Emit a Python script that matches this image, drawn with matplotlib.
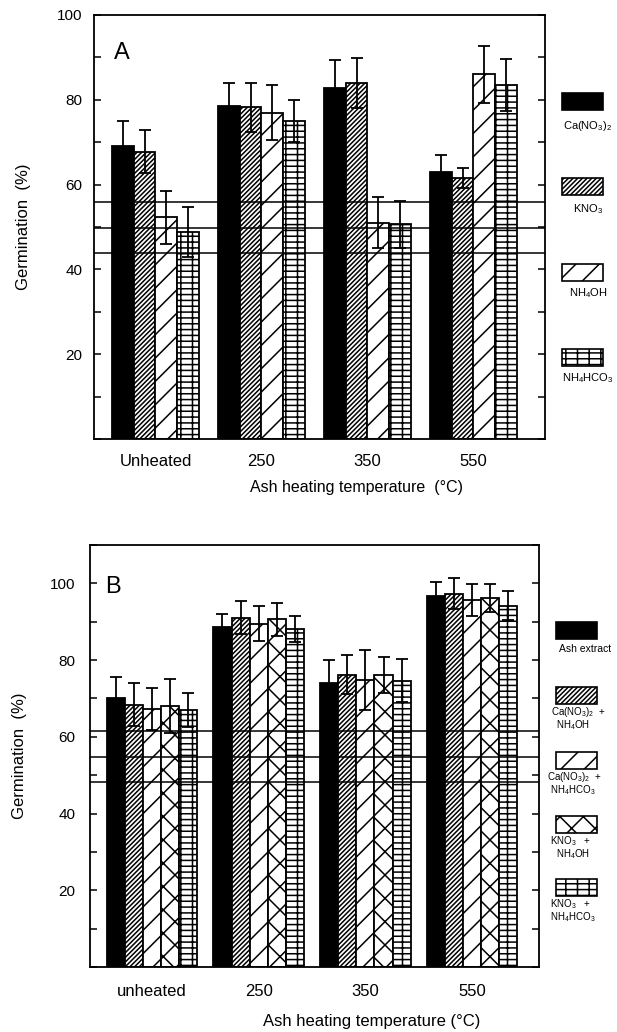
#Import modules
import matplotlib
matplotlib.use('Agg')
import matplotlib.pyplot as plt
from matplotlib.patches import Rectangle
import numpy as np

#Render at 70 dpi so the hatch cell matches the scan; S rescales point sizes
DPI = 70
S = 100 / DPI

#Fonts
plt.rcParams['font.family'] = ['Liberation Sans', 'DejaVu Sans']
plt.rcParams['mathtext.fontset'] = 'custom'
plt.rcParams['mathtext.rm'] = 'Liberation Sans'
plt.rcParams['mathtext.default'] = 'regular'
plt.rcParams['hatch.linewidth'] = 1.1 * S

#Panel A data
a_categories = ['Unheated', '250', '350', '550']
a_names = ['Ca(NO$_3$)$_2$', 'KNO$_3$', 'NH$_4$OH', 'NH$_4$HCO$_3$']
a_ca = [69.2, 78.6, 82.9, 63.0]
a_ca_err = [5.8, 5.4, 6.6, 4.0]
a_kno3 = [67.8, 78.2, 84.0, 61.5]
a_kno3_err = [5.1, 5.8, 5.9, 2.3]
a_nh4oh = [52.3, 77.0, 51.0, 86.0]
a_nh4oh_err = [6.2, 6.5, 6.0, 6.7]
a_nh4hco3 = [48.8, 75.0, 50.6, 83.5]
a_nh4hco3_err = [5.8, 5.0, 5.5, 6.1]
a_control = [55.8, 49.8, 43.9]

#Panel B data
b_categories = ['unheated', '250', '350', '550']
b_names = ['Ash extract',
           ['Ca(NO$_3$)$_2$  +', 'NH$_4$OH'],
           ['Ca(NO$_3$)$_2$  +', 'NH$_4$HCO$_3$'],
           ['KNO$_3$   +', 'NH$_4$OH'],
           ['KNO$_3$   +', 'NH$_4$HCO$_3$']]
b_ash = [70.1, 88.7, 74.1, 96.8]
b_ash_err = [5.5, 3.3, 6.0, 3.6]
b_ca_nh4oh = [68.4, 91.1, 76.2, 97.3]
b_ca_nh4oh_err = [5.6, 4.4, 5.1, 4.0]
b_ca_nh4hco3 = [67.3, 89.5, 74.9, 95.6]
b_ca_nh4hco3_err = [5.5, 4.6, 7.8, 4.2]
b_kno3_nh4oh = [68.0, 90.6, 76.2, 96.2]
b_kno3_nh4oh_err = [7.0, 4.2, 4.7, 3.6]
b_kno3_nh4hco3 = [67.0, 88.0, 74.6, 94.2]
b_kno3_nh4hco3_err = [4.5, 3.4, 5.6, 3.8]
b_control = [61.4, 54.8, 48.3]

W, H = 617, 1032
fig = plt.figure(figsize=(W / DPI, H / DPI), dpi=DPI)

#Helper to convert pixel boxes to figure fractions
def px_axes(left, top, right, bottom):
    return fig.add_axes([left / W, 1 - bottom / H, (right - left) / W, (bottom - top) / H])

#Function to draw one grouped bar panel
def panel(ax, categories, values, errors, hatches, colors, width, controls, ymax):
    x = np.arange(len(categories))
    n = len(values)
    for j in range(n):
        pos = x + (j - (n - 1) / 2) * width
        ax.bar(pos, values[j], width, color=colors[j], edgecolor='black',
               hatch=hatches[j], linewidth=1.3 * S, zorder=2)
        ax.errorbar(pos, values[j], yerr=errors[j], fmt='none', ecolor='black',
                    elinewidth=1.3 * S, capsize=4.5 * S, capthick=1.3 * S, zorder=3)
    for c in controls:
        ax.axhline(c, color='black', linewidth=1.1 * S, zorder=4)
    ax.set_ylim(0, ymax)
    ax.set_xticks(x)
    ax.set_xticklabels(categories, fontsize=12 * S)
    ax.set_yticks(np.arange(0, ymax + 1, 10))
    ax.set_yticklabels(['' if (v == 0 or v % 20) else str(v) for v in range(0, ymax + 1, 10)],
                       fontsize=11 * S)
    ax.tick_params(axis='y', which='both', direction='in', right=True,
                   length=5 * S, width=1.1 * S)
    ax.tick_params(axis='x', length=0)
    for s in ax.spines.values():
        s.set_linewidth(1.3 * S)

#Legend entry: patch drawn in figure pixels
def legend_patch(left, top, right, bottom, color, hatch):
    r = Rectangle((left / W, 1 - bottom / H), (right - left) / W, (bottom - top) / H,
                  transform=fig.transFigure, facecolor=color, edgecolor='black',
                  hatch=hatch, linewidth=1.2 * S)
    fig.add_artist(r)

#Panel A
axA = px_axes(94, 15, 545, 439)
a_colors = ['black', 'white', 'white', 'white']
a_hatches = ['', '/////', '/', '+-']
panel(axA, a_categories, [a_ca, a_kno3, a_nh4oh, a_nh4hco3],
      [a_ca_err, a_kno3_err, a_nh4oh_err, a_nh4hco3_err],
      a_hatches, a_colors, 0.205, a_control, 100)
axA.set_xlim(-0.58, 3.675)
axA.tick_params(axis='x', pad=11 * S)
axA.tick_params(axis='y', pad=8.5 * S)
axA.set_ylabel('Germination  (%)', fontsize=12 * S)
axA.yaxis.set_label_coords(-0.14, 0.5)
axA.set_xlabel('Ash heating temperature  (°C)', fontsize=11.5 * S)
axA.xaxis.set_label_coords(0.583, -0.097)
axA.text(0.045, 0.91, 'A', transform=axA.transAxes, fontsize=17 * S, va='center')

a_tops = [93, 178, 264, 349]
a_texty = [126, 209, 293, 378]
for i in range(4):
    legend_patch(562, a_tops[i], 603, a_tops[i] + 17, a_colors[i], a_hatches[i])
    fig.text(588 / W, 1 - a_texty[i] / H, a_names[i], fontsize=8 * S, ha='center', va='center')

#Panel B
axB = px_axes(89.5, 545, 539.3, 967)
b_colors = ['black', 'white', 'white', 'white', 'white']
b_hatches = ['', '/////', '/', 'x', '+-']
panel(axB, b_categories, [b_ash, b_ca_nh4oh, b_ca_nh4hco3, b_kno3_nh4oh, b_kno3_nh4hco3],
      [b_ash_err, b_ca_nh4oh_err, b_ca_nh4hco3_err, b_kno3_nh4oh_err, b_kno3_nh4hco3_err],
      b_hatches, b_colors, 0.17, b_control, 110)
axB.set_xlim(-0.586, 3.63)
axB.tick_params(axis='x', pad=12 * S)
axB.tick_params(axis='y', pad=10 * S)
axB.set_ylabel('Germination  (%)', fontsize=12 * S)
axB.yaxis.set_label_coords(-0.14, 0.5)
axB.set_xlabel('Ash heating temperature (°C)', fontsize=12 * S)
axB.xaxis.set_label_coords(0.628, -0.111)
axB.text(0.035, 0.9, 'B', transform=axB.transAxes, fontsize=17 * S, va='center')

b_tops = [622, 687, 752, 816, 879]
for i in range(5):
    legend_patch(556, b_tops[i], 597, b_tops[i] + 17, b_colors[i], b_hatches[i])
fig.text(559 / W, 1 - 649 / H, b_names[0], fontsize=7.5 * S, ha='left', va='center')
#Two-line captions below the mixture patches
b_line1_x = [578, 574, 570, 570]
for i in range(1, 5):
    y1 = b_tops[i] + 17 + 8
    y2 = y1 + 13
    fig.text(b_line1_x[i - 1] / W, 1 - y1 / H, b_names[i][0], fontsize=7 * S,
             ha='center', va='center')
    fig.text(573 / W, 1 - y2 / H, b_names[i][1], fontsize=7 * S, ha='center', va='center')

plt.savefig('out.png', dpi=DPI)
